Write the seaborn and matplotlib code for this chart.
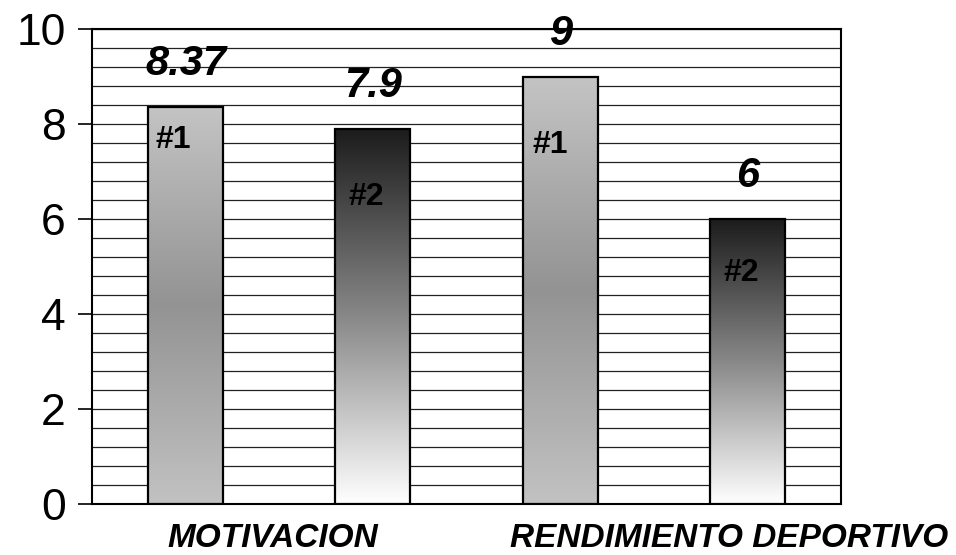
import numpy as np
import pandas as pd
import seaborn as sns
import matplotlib.pyplot as plt
import matplotlib.transforms as mtransforms
from matplotlib.colors import LinearSegmentedColormap

categories = ['MOTIVACION', 'RENDIMIENTO DEPORTIVO']
groups = ['#1', '#2']
values_1 = [8.37, 9]
values_2 = [7.9, 6]
value_labels_1 = ['8.37', '9']
value_labels_2 = ['7.9', '6']
y_ticks = [0, 2, 4, 6, 8, 10]

df = pd.DataFrame({
    'categoria': categories * 2,
    'grupo': [groups[0]] * len(categories) + [groups[1]] * len(categories),
    'valor': values_1 + values_2,
})

sns.set_style('white')
plt.rcParams['font.family'] = ['Liberation Sans', 'DejaVu Sans']
plt.rcParams['text.color'] = 'black'
plt.rcParams['xtick.color'] = 'black'
plt.rcParams['ytick.color'] = 'black'

fig = plt.figure(figsize=(9.56, 5.55), dpi=100)
ax = fig.add_axes([0.0962, 0.0919, 0.7835, 0.855])

sns.barplot(data=df, x='categoria', y='valor', hue='grupo', hue_order=groups,
            width=1.0, gap=0.6, palette=['white', 'white'], edgecolor='black',
            linewidth=1.6, legend=False, ax=ax, zorder=3)

# gradients like the old excel fills (top -> bottom)
cmap_1 = LinearSegmentedColormap.from_list('g1', ['#c4c4c4', '#939393', '#c2c2c2'])
cmap_2 = LinearSegmentedColormap.from_list('g2', ['#1c1c1c', '#888888', '#ffffff'])
grad = np.linspace(0, 1, 256).reshape(-1, 1)

value_labels = [value_labels_1, value_labels_2]
inner_offsets = [[-33, -68], [-68, -54]]  # px below bar top
inner_shift = [[-12, -10], [-7, -6]]
for k, (container, cmap) in enumerate(zip(ax.containers, [cmap_1, cmap_2])):
    for j, bar in enumerate(container):
        bar.set_facecolor('none')
        x0, y0 = bar.get_x(), bar.get_y()
        w, h = bar.get_width(), bar.get_height()
        im = ax.imshow(grad, extent=[x0, x0 + w, y0, y0 + h], aspect='auto', origin='upper',
                       cmap=cmap, vmin=0, vmax=1, zorder=2.9, interpolation='bilinear')
        im.set_clip_path(bar)
        xc = x0 + w / 2
        ax.annotate(value_labels[k][j], (xc, y0 + h), xytext=(0, 31),
                    textcoords='offset points', ha='center', va='center',
                    fontsize=30, fontweight='bold', fontstyle='italic', zorder=5)
        ax.annotate(groups[k], (xc, y0 + h),
                    xytext=(inner_shift[k][j] * 0.72, inner_offsets[k][j] * 0.72),
                    textcoords='offset points', ha='center', va='center',
                    fontsize=23, fontweight='bold', zorder=5)

ax.set_xlim(-0.5, 1.5)
ax.set_ylim(0, 10)
ax.set_yticks(y_ticks)
ax.set_yticks(np.arange(0, 10.01, 0.4), minor=True)
ax.set_yticklabels([str(t) for t in y_ticks], fontsize=32)
ax.tick_params(axis='y', which='major', left=True, length=10, width=1.2, pad=9)
ax.tick_params(axis='y', which='minor', left=False, length=0)
ax.yaxis.grid(True, which='both', color='#222222', linewidth=0.9)
ax.set_axisbelow(True)

ax.tick_params(axis='x', length=0, pad=14)
ax.set_xticks(range(len(categories)))
ax.set_xticklabels(categories, fontsize=24, fontweight='bold', fontstyle='italic')
# labels sit a little off their groups in the original
ax.get_xticklabels()[0].set_transform(ax.get_xticklabels()[0].get_transform()
                                      + mtransforms.ScaledTranslation(-0.06, 0, fig.dpi_scale_trans))
ax.get_xticklabels()[1].set_transform(ax.get_xticklabels()[1].get_transform()
                                      + mtransforms.ScaledTranslation(0.75, 0, fig.dpi_scale_trans))

ax.set_xlabel('')
ax.set_ylabel('')
for s in ax.spines.values():
    s.set_visible(True)
    s.set_color('black')
    s.set_linewidth(1.5)

fig.savefig('out.png', dpi=100)
